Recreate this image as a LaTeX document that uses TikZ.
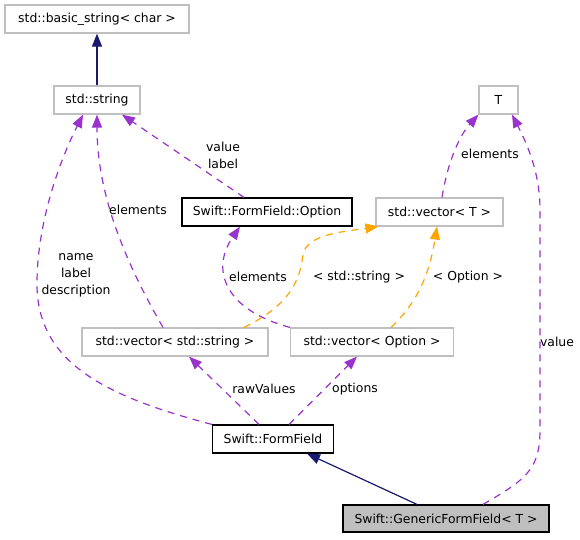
\documentclass[tikz,border=0pt]{standalone}
\usepackage{fontspec}
\setmainfont{DejaVu Sans}
\usetikzlibrary{arrows.meta,calc}
\definecolor{edgepurple}{HTML}{9A32CD}
\definecolor{edgeorange}{HTML}{FFA500}
\definecolor{edgenavy}{HTML}{191970}
\definecolor{extgray}{HTML}{BFBFBF}
\begin{document}
\begin{tikzpicture}[x=0.75pt,y=-0.75pt,
  font=\fontsize{9.3pt}{12.75pt}\selectfont,
  cls/.style={draw=extgray,line width=0.9pt,fill=white,minimum height=21pt,inner sep=0pt},
  doc/.style={draw=black,line width=0.9pt,fill=white,minimum height=21pt,inner sep=0pt},
  cur/.style={draw=black,line width=0.9pt,fill=extgray,minimum height=20.25pt,inner sep=0pt},
  bw/.style={minimum width=#1*0.75pt},
  tip/.style={-{Triangle[length=9.75pt,width=7.5pt]}},
  inherit/.style={tip,draw=edgenavy,line width=0.9pt},
  usage/.style={tip,draw=edgepurple,line width=0.9pt,dash pattern=on 5.25pt off 4.5pt},
  tmpl/.style={tip,draw=edgeorange,line width=0.9pt,dash pattern=on 5.25pt off 4.5pt},
  lbl/.style={align=center,inner sep=0pt}]
\useasboundingbox (0,0) rectangle (580,539);
% nodes
\node[cls,bw=184] (bs) at (97,19) {std::basic\_string< char >};
\node[cls,bw=86] (str) at (97,100) {std::string};
\node[doc,bw=170] (opt) at (267,212) {Swift::FormField::Option};
\node[cls,bw=127] (vT) at (439.5,212) {std::vector< T >};
\node[cls,bw=39] (T) at (498.5,100) {T};
\node[cls,bw=186] (vS) at (175,342) {std::vector< std::string >};
\node[cls,bw=163] (vO) at (372,342) {std::vector< Option >};
\node[doc,bw=121] (ff) at (273,439) {Swift::FormField};
\node[cur,bw=206] (gff) at (446,518.5) {Swift::GenericFormField< T >};
% edges
\draw[inherit] (str.north) -- (bs.south);
\draw[inherit] ($(gff.north)+(-29,0)$) -- ($(ff.south)+(34,0)$);
\draw[usage] (ff.north west) .. controls (100,395) and (35,360) .. (37,280)
  .. controls (38,220) and (60,160) .. ($(str.south)+(-14,0)$);
\draw[usage] ($(vS.north)+(-12,0)$) .. controls (130,270) and (97,200) .. (str.south);
\draw[usage] ($(opt.north)+(-23,0)$) -- ($(str.south)+(25,0)$);
\draw[usage] (vO.north west) .. controls (225,310) and (210,270) .. ($(opt.south)+(-27,0)$);
\draw[tmpl] ($(vS.north)+(69,0)$) .. controls (290,305) and (300,280) .. (303,255)
  .. controls (306,235) and (340,232) .. ($(vT.south west)+(3,0)$);
\draw[tmpl] ($(vO.north)+(19,0)$) .. controls (420,300) and (430,270) .. ($(vT.south)+(-2.5,0)$);
\draw[usage] ($(vT.north)+(2.5,0)$) .. controls (448,160) and (460,135) .. (T.south west);
\draw[usage] ($(gff.north)+(37,0)$) .. controls (525,480) and (540,470) .. (540,430)
  -- (540,210) .. controls (540,170) and (525,140) .. ($(T.south)+(13.5,0)$);
\draw[usage] ($(ff.north)+(-14,0)$) -- ($(vS.south)+(14,0)$);
\draw[usage] ($(ff.north)+(16,0)$) -- ($(vO.south)+(-15,0)$);
% labels
\node[lbl] (l1) at (76,275.5) {name\\label\\description};
\node[lbl] (l2) at (138,210) {elements};
\node[lbl] (l3) at (223,155) {value\\label};
\node[lbl] (l4) at (258,277) {elements};
\node[lbl] (l5) at (359,277) {< std::string >};
\node[lbl] (l6) at (468,277) {< Option >};
\node[lbl] (l7) at (490,154) {elements};
\node[lbl] (l8) at (557,342) {value};
\node[lbl] (l9) at (264,389) {rawValues};
\node[lbl] (l10) at (355,389) {options};
\end{tikzpicture}
\end{document}
